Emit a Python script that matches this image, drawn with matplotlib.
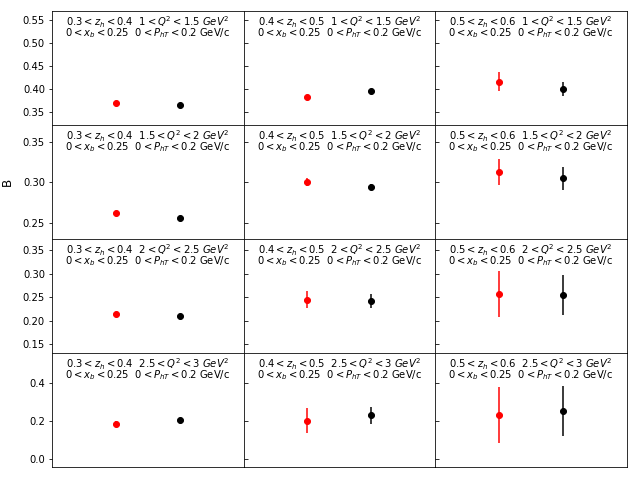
import numpy as np
import matplotlib.pyplot as plt
from matplotlib.ticker import MultipleLocator

# bin labels
zh_txt = [r'$0.3 < z_h < 0.4$', r'$0.4 < z_h < 0.5$', r'$0.5 < z_h < 0.6$']
q2_txt = [r'$1 < Q^2 < 1.5\ GeV^2$', r'$1.5 < Q^2 < 2\ GeV^2$',
          r'$2 < Q^2 < 2.5\ GeV^2$', r'$2.5 < Q^2 < 3\ GeV^2$']
line2 = r'$0 < x_b < 0.25$  $0 < P_{hT} < 0.2$ GeV/c'

# B values, rows = Q2 bins, cols = zh bins
red_val = [[0.370, 0.382, 0.416],
           [0.262, 0.301, 0.313],
           [0.214, 0.245, 0.257],
           [0.184, 0.201, 0.231]]
red_err = [[0.002, 0.006, 0.021],
           [0.002, 0.005, 0.016],
           [0.002, 0.018, 0.048],
           [0.015, 0.065, 0.145]]
blk_val = [[0.366, 0.395, 0.400],
           [0.256, 0.294, 0.305],
           [0.210, 0.242, 0.254],
           [0.207, 0.229, 0.250]]
blk_err = [[0.002, 0.003, 0.016],
           [0.002, 0.004, 0.014],
           [0.002, 0.014, 0.042],
           [0.004, 0.045, 0.131]]

ylims = [(0.322, 0.570), (0.230, 0.371), (0.132, 0.373), (-0.042, 0.556)]
ysteps = [0.05, 0.05, 0.05, 0.2]

fig, axes = plt.subplots(4, 3, figsize=(637 / 72, 477 / 72), dpi=72, sharey='row')
fig.subplots_adjust(left=0.0816, right=0.984, top=0.977, bottom=0.021,
                    wspace=0, hspace=0)

for i in range(4):
    for j in range(3):
        ax = axes[i, j]
        ax.errorbar([1], [red_val[i][j]], yerr=[red_err[i][j]], fmt='o',
                    color='r')
        ax.errorbar([2], [blk_val[i][j]], yerr=[blk_err[i][j]], fmt='o',
                    color='k')
        ax.set_xlim(0, 3)
        ax.set_ylim(*ylims[i])
        ax.yaxis.set_major_locator(MultipleLocator(ysteps[i]))
        ax.set_xticks([])
        if j > 0:
            ax.tick_params(axis='y', direction='in', labelleft=False)
        ax.text(0.5, 0.778, zh_txt[j] + '  ' + q2_txt[i] + '\n' + line2,
                transform=ax.transAxes, ha='center', va='baseline',
                multialignment='center', fontsize=10, linespacing=0.6)

axes[1, 0].set_ylabel('B', fontsize=12)
axes[1, 0].yaxis.set_label_coords(-0.2, 0.5)

plt.savefig('out.png', dpi=72)
